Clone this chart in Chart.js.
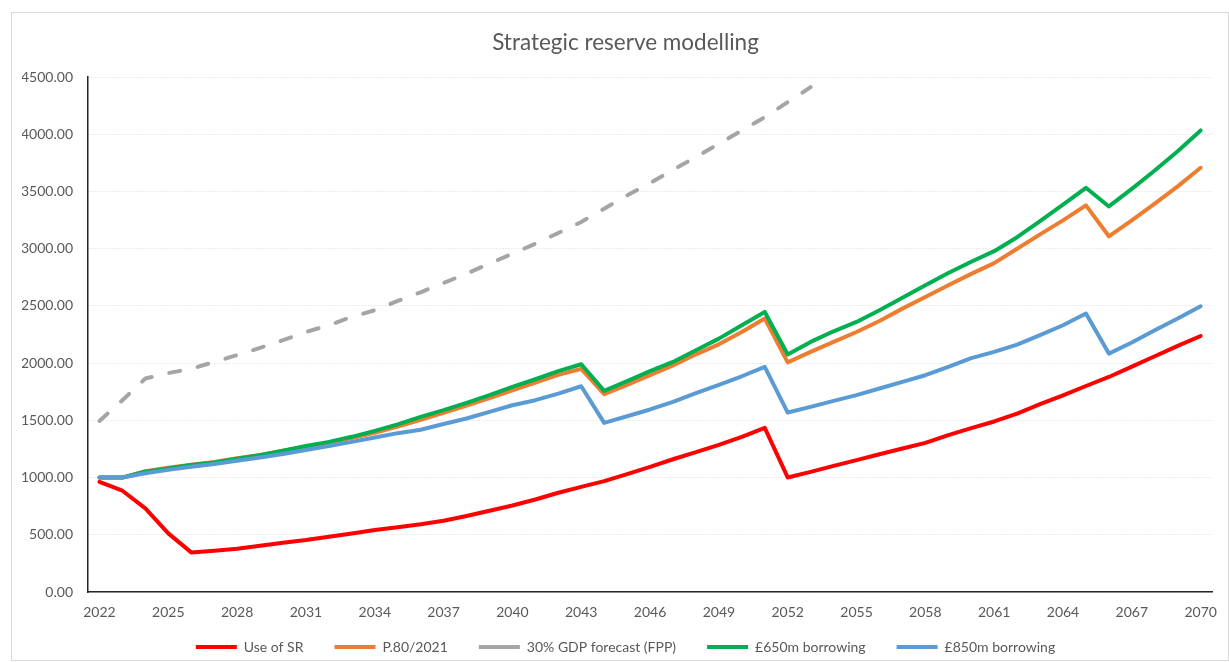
<!DOCTYPE html>
<html>
<head>
<meta charset="utf-8">
<script src="https://cdn.jsdelivr.net/npm/chart.js@4.4.0/dist/chart.umd.min.js"></script>
<style>
  html, body { margin: 0; padding: 0; background: #fff; overflow: hidden; }
  #frame { position: absolute; left: 11px; top: 12px; width: 1216px; height: 647px; border: 1px solid #d9d9d9; }
  #chart { position: absolute; left: 0; top: 0; }
</style>
</head>
<body>
<div id="frame"></div>
<canvas id="chart" width="1229" height="664"></canvas>
<script>
const years = [
  '2022', '2023', '2024', '2025', '2026', '2027', '2028', '2029', '2030', '2031',
  '2032', '2033', '2034', '2035', '2036', '2037', '2038', '2039', '2040', '2041',
  '2042', '2043', '2044', '2045', '2046', '2047', '2048', '2049', '2050', '2051',
  '2052', '2053', '2054', '2055', '2056', '2057', '2058', '2059', '2060', '2061',
  '2062', '2063', '2064', '2065', '2066', '2067', '2068', '2069', '2070'
];

const useOfSR = [
  963, 885, 730, 512, 346, 361, 378, 404, 431, 454,
  483, 512, 541, 566, 592, 623, 664, 710, 756, 808,
  867, 919, 969, 1030, 1094, 1160, 1222, 1285, 1355, 1434,
  1001, 1050, 1102, 1152, 1204, 1254, 1303, 1370, 1432, 1490,
  1559, 1641, 1719, 1800, 1879, 1969, 2060, 2150, 2237
];

const p80 = [
  1000, 1000, 1055, 1085, 1113, 1137, 1168, 1198, 1234, 1270,
  1305, 1345, 1390, 1445, 1505, 1565, 1628, 1694, 1762, 1830,
  1897, 1950, 1729, 1810, 1895, 1980, 2077, 2164, 2272, 2389,
  2006, 2098, 2185, 2272, 2368, 2476, 2578, 2680, 2780, 2874,
  2999, 3125, 3247, 3378, 3108, 3247, 3393, 3544, 3707
];

// stops at 2053, the rest is above the axis maximum
const gdpForecast = [
  1495, 1676, 1865, 1913, 1950, 2010, 2070, 2133, 2200, 2272,
  2331, 2404, 2462, 2543, 2619, 2700, 2782, 2869, 2956, 3043,
  3137, 3233, 3349, 3465, 3573, 3689, 3800, 3916, 4033, 4149,
  4280, 4411
];

const borrow650 = [
  1000, 1000, 1051, 1080, 1109, 1132, 1164, 1196, 1234, 1275,
  1312, 1356, 1408, 1465, 1530, 1589, 1653, 1720, 1792, 1859,
  1930, 1990, 1757, 1842, 1930, 2010, 2112, 2214, 2330, 2447,
  2075, 2185, 2278, 2360, 2462, 2572, 2680, 2787, 2885, 2978,
  3100, 3240, 3385, 3532, 3369, 3523, 3683, 3852, 4033
];

const borrow850 = [
  1000, 1000, 1037, 1067, 1094, 1118, 1147, 1176, 1205, 1240,
  1275, 1312, 1350, 1388, 1418, 1468, 1516, 1574, 1632, 1676,
  1734, 1798, 1478, 1536, 1595, 1662, 1737, 1810, 1885, 1967,
  1568, 1618, 1670, 1720, 1778, 1836, 1894, 1967, 2044, 2098,
  2162, 2244, 2331, 2433, 2083, 2180, 2287, 2389, 2497
];

const textColor = '#595959';
const font = { family: 'Lato', size: 14 };

function line(label, data, color, order, dash) {
  return {
    label: label,
    data: data,
    borderColor: color,
    backgroundColor: color,
    borderWidth: 4,
    borderDash: dash || [],
    borderCapStyle: 'round',
    borderJoinStyle: 'round',
    pointRadius: 0,
    tension: 0,
    order: order
  };
}

// wider gaps between legend entries than the vertical padding allows
function legendLabels(chart) {
  const items = Chart.defaults.plugins.legend.labels.generateLabels(chart);
  items.forEach(it => { if (it.datasetIndex < 4) it.text += '\u2003\u2003'; });
  return items;
}

new Chart(document.getElementById('chart'), {
  type: 'line',
  data: {
    labels: years,
    datasets: [
      line('Use of SR', useOfSR, '#ff0000', 5),
      line('P.80/2021', p80, '#ed7d31', 4),
      line('30% GDP forecast (FPP)', gdpForecast, '#a5a5a5', 3, [11, 18]),
      line('£650m borrowing', borrow650, '#00b050', 2),
      line('£850m borrowing', borrow850, '#5b9bd5', 1)
    ]
  },
  options: {
    responsive: false,
    animation: false,
    layout: { padding: { left: 22, right: 0, top: 12, bottom: 0 } },
    plugins: {
      title: {
        display: true,
        text: 'Strategic reserve modelling',
        color: textColor,
        font: { family: 'Lato', size: 22.5, weight: 'normal' },
        padding: { top: 17, bottom: 21 }
      },
      legend: {
        position: 'bottom',
        labels: {
          usePointStyle: true,
          pointStyle: 'line',
          pointStyleWidth: 41,
          padding: 10,
          color: textColor,
          font: font,
          generateLabels: legendLabels,
          sort: (a, b) => a.datasetIndex - b.datasetIndex
        }
      },
      tooltip: { enabled: false }
    },
    scales: {
      x: {
        offset: true,
        grid: { display: false, drawTicks: false },
        border: { display: true, color: '#262626', width: 1.5 },
        ticks: {
          autoSkip: false,
          maxRotation: 0,
          padding: 12,
          color: textColor,
          font: font,
          callback: function (v, i) { return i % 3 === 0 ? this.getLabelForValue(v) : ''; }
        },
        afterFit: s => { s.height = 38; }
      },
      y: {
        min: 0,
        max: 4500,
        grid: { color: '#d9d9d9', drawTicks: false },
        border: { display: true, color: '#262626', width: 1.5, dash: [1, 2] },
        ticks: {
          stepSize: 500,
          padding: 15,
          color: textColor,
          font: font,
          callback: v => v.toFixed(2)
        },
        afterFit: s => { s.width = 66; }
      },
      // empty strip on the right so the plot ends where the original does
      yRight: {
        position: 'right',
        grid: { display: false, drawTicks: false },
        border: { display: false },
        ticks: { display: false },
        afterFit: s => { s.width = 11; }
      }
    }
  }
});
</script>
</body>
</html>
